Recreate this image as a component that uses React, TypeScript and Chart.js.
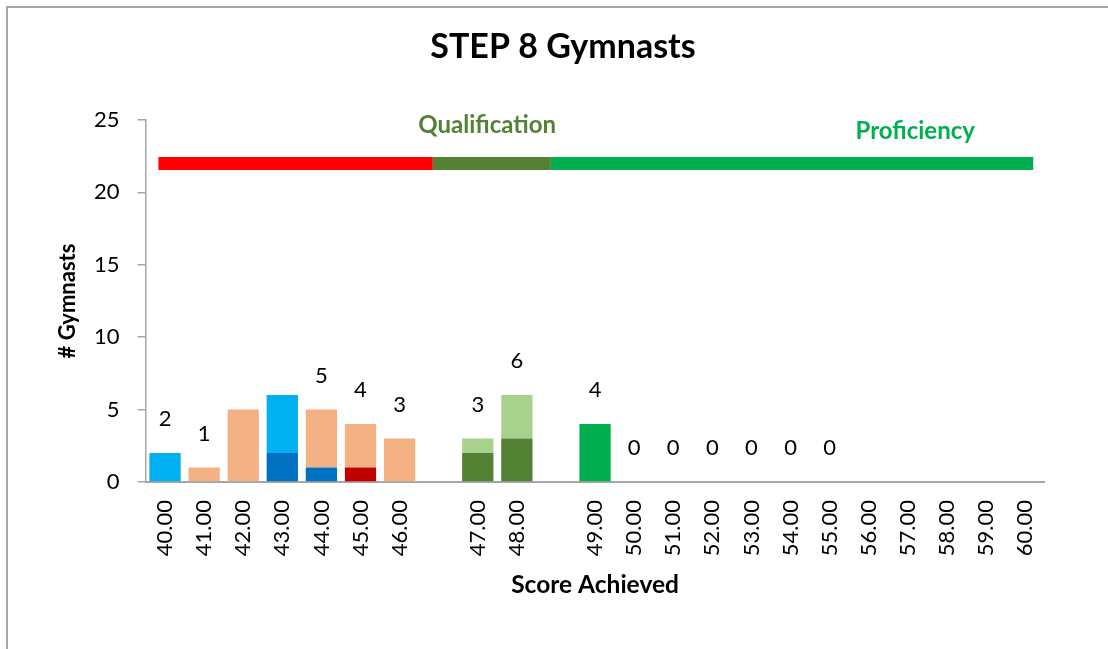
import React, { useEffect, useRef } from "react";
import { Chart, registerables } from "chart.js";

Chart.register(...registerables);

const N = null;

const categories = [
  "40.00", "41.00", "42.00", "43.00", "44.00", "45.00", "46.00", "",
  "47.00", "48.00", "", "49.00", "50.00", "51.00", "52.00", "53.00",
  "54.00", "55.00", "56.00", "57.00", "58.00", "59.00", "60.00",
];

// stacked series (bottom to top)
const darkBlue = [N, N, N, 2, 1, N, N, N, N, N, N, N, N, N, N, N, N, N, N, N, N, N, N];
const darkRed = [N, N, N, N, N, 1, N, N, N, N, N, N, N, N, N, N, N, N, N, N, N, N, N];
const darkGreen = [N, N, N, N, N, N, N, N, 2, 3, N, N, N, N, N, N, N, N, N, N, N, N, N];
const lightBlue = [2, N, N, 4, N, N, N, N, N, N, N, N, N, N, N, N, N, N, N, N, N, N, N];
const peach = [N, 1, 5, N, 4, 3, 3, N, N, N, N, N, N, N, N, N, N, N, N, N, N, N, N];
const lightGreen = [N, N, N, N, N, N, N, N, 1, 3, N, N, N, N, N, N, N, N, N, N, N, N, N];
const brightGreen = [N, N, N, N, N, N, N, N, N, N, N, 4, N, N, N, N, N, N, N, N, N, N, N];

// value labels shown above bars
const totalLabels = [2, 1, N, N, 5, 4, 3, N, 3, 6, N, 4, 0, 0, 0, 0, 0, 0, N, N, N, N, N];

// level band (in category-index units)
const bandLevel = 22;
const bandStart = [-0.17, 6.85, 9.87];
const bandEnd = [6.85, 9.87, 22.21];
const bandColors = ["#FF0000", "#548235", "#00B050"];

const bandTitles = ["Qualification", "Proficiency"];
const bandTitleX = [8.24, 19.19];
const bandTitleY = [24.65, 24.25];
const bandTitleColors = ["#548235", "#00B050"];

const FONT = "Lato";

const textPlugin = {
  id: "textPlugin",
  afterDatasetsDraw(chart: any) {
    const ctx = chart.ctx;
    const xc = chart.scales.x;
    const xs = chart.scales.x2;
    const ys = chart.scales.y;
    ctx.save();
    ctx.textAlign = "center";
    ctx.textBaseline = "middle";
    ctx.font = `22px ${FONT}`;
    ctx.fillStyle = "#000";
    totalLabels.forEach((v, i) => {
      if (v === null || v === undefined) return;
      ctx.fillText(String(v), xc.getPixelForValue(i), ys.getPixelForValue(v) - 34);
    });
    ctx.font = `bold 24px ${FONT}`;
    bandTitles.forEach((t, i) => {
      ctx.fillStyle = bandTitleColors[i];
      ctx.fillText(t, xs.getPixelForValue(bandTitleX[i]), ys.getPixelForValue(bandTitleY[i]));
    });
    ctx.restore();
  },
};

export default function App() {
  const ref = useRef<HTMLCanvasElement>(null);
  useEffect(() => {
    if (!ref.current) return;
    const bar = (label: string, data: any[], color: string) => ({
      type: "bar" as const,
      label,
      data,
      backgroundColor: color,
      borderWidth: 0,
      barPercentage: 0.8,
      categoryPercentage: 1,
      grouped: false,
      xAxisID: "x",
      yAxisID: "y",
      stack: "counts",
    });
    const bands = bandStart.map((s, i) => ({
      type: "line" as const,
      label: "band" + i,
      data: [
        { x: s, y: bandLevel },
        { x: bandEnd[i], y: bandLevel },
      ],
      borderColor: bandColors[i],
      borderWidth: 13,
      borderCapStyle: "butt",
      pointRadius: 0,
      fill: false,
      xAxisID: "x2",
      yAxisID: "y",
      stack: "band" + i,
    }));
    const chart = new Chart(ref.current, {
      type: "bar",
      data: {
        labels: categories,
        datasets: [
          bar("Dark blue", darkBlue, "#0070C0"),
          bar("Dark red", darkRed, "#C00000"),
          bar("Dark green", darkGreen, "#548235"),
          bar("Light blue", lightBlue, "#00B0F0"),
          bar("Peach", peach, "#F4B183"),
          bar("Light green", lightGreen, "#A9D18E"),
          bar("Bright green", brightGreen, "#00B050"),
          ...bands,
        ],
      } as any,
      options: {
        responsive: false,
        animation: false,
        layout: { padding: 0 },
        plugins: {
          legend: { display: false },
          tooltip: { enabled: false },
          title: {
            display: true,
            text: "STEP 8 Gymnasts",
            color: "#000",
            font: { family: FONT, size: 34, weight: "bold" },
            padding: { top: 18.6, bottom: 52.6 },
          },
        },
        scales: {
          x: {
            type: "category",
            stacked: true,
            offset: true,
            ticks: {
              minRotation: 90,
              maxRotation: 90,
              autoSkip: false,
              color: "#000",
              font: { family: FONT, size: 22 },
              padding: 18,
            },
            grid: { display: false, drawTicks: false },
            border: { display: true, color: "#A6A6A6", width: 2 },
            title: {
              display: true,
              text: "Score Achieved",
              color: "#000",
              font: { family: FONT, size: 24.5, weight: "bold" },
              padding: { top: 0, bottom: 49 },
            },
            afterFit: (s: any) => {
              s.height = 167;
            },
          },
          x2: {
            type: "linear",
            display: false,
            offset: false,
            grid: { offset: false },
            min: -0.5,
            max: 22.5,
          },
          y: {
            stacked: true,
            min: 0,
            max: 25,
            ticks: {
              stepSize: 5,
              color: "#000",
              font: { family: FONT, size: 22 },
              padding: 18,
            },
            grid: {
              drawOnChartArea: false,
              drawTicks: true,
              tickLength: 8,
              color: "#A6A6A6",
              lineWidth: 1.5,
            },
            border: { display: true, color: "#A6A6A6", width: 1.5 },
            title: {
              display: true,
              text: "# Gymnasts",
              color: "#000",
              font: { family: FONT, size: 22, weight: "bold" },
              padding: { top: 47, bottom: 0 },
            },
            afterFit: (s: any) => {
              s.width = 137.5;
            },
          },
          yR: {
            type: "linear",
            position: "right",
            display: true,
            grid: { display: false, drawTicks: false },
            border: { display: false },
            ticks: { display: false },
            afterFit: (s: any) => {
              s.width = 73.4;
            },
          },
        },
      } as any,
      plugins: [textPlugin],
    });
    return () => chart.destroy();
  }, []);

  return (
    <div
      style={{
        position: "absolute",
        left: 6,
        top: 6,
        width: 1100,
        height: 641,
        borderTop: "2px solid #A6A6A6",
        borderLeft: "2px solid #A6A6A6",
        overflow: "hidden",
        background: "#fff",
      }}
    >
      <canvas
        ref={ref}
        width={1110}
        height={641}
        style={{ display: "block", width: 1110, height: 641 }}
      />
    </div>
  );
}
